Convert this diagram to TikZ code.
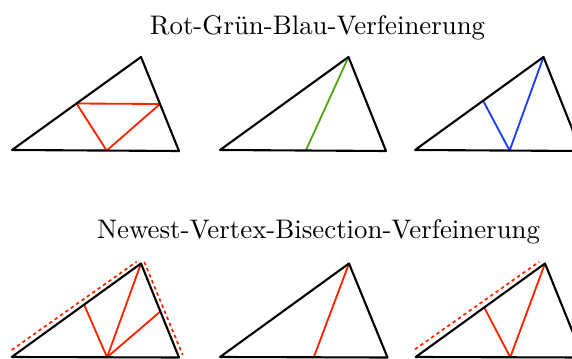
\documentclass[tikz,border=0pt]{standalone}
\usetikzlibrary{calc}
\definecolor{rgbred}{RGB}{255,35,0}
\definecolor{rgbgreen}{RGB}{85,165,25}
\definecolor{rgbblue}{RGB}{25,60,255}
\begin{document}
\begin{tikzpicture}[x=0.38pt,y=-0.38pt,
  edge/.style={black,line width=0.8pt,line join=round},
  refine/.style={line width=0.7pt,line join=round},
  marked/.style={rgbred,line width=0.65pt,dash pattern=on 1.3pt off 1.2pt},
  title/.style={anchor=base,inner sep=0pt,font=\fontsize{10.2pt}{12pt}\selectfont}]
\useasboundingbox (0,0) rectangle (572,359);
\clip (0,0) rectangle (572,359);
\node[title] (t1) at (317.5,35) {Rot-Grün-Blau-Verfeinerung};
\node[title] (t2) at (318.5,239) {Newest-Vertex-Bisection-Verfeinerung};
% triangle vertices
\coordinate (a1) at (12,150);   \coordinate (b1) at (179,151);   \coordinate (c1) at (141,57);
\coordinate (a2) at (220,150);  \coordinate (b2) at (386,151);   \coordinate (c2) at (348.5,57);
\coordinate (a3) at (415,150);  \coordinate (b3) at (581,151);   \coordinate (c3) at (543.5,57);
\coordinate (a4) at (11.7,357); \coordinate (b4) at (179,357.5); \coordinate (c4) at (141,263.5);
\coordinate (a5) at (220,357);  \coordinate (b5) at (387.5,357.5); \coordinate (c5) at (349,263.5);
\coordinate (a6) at (415.7,357);\coordinate (b6) at (583,357.5); \coordinate (c6) at (545,263.5);
% refinement points
\coordinate (p1) at ($(a1)!0.567!(b1)$);
\coordinate (q1) at ($(a1)!0.5!(c1)$);
\coordinate (r1) at ($(b1)!0.5!(c1)$);
\coordinate (p2) at ($(a2)!0.517!(b2)$);
\coordinate (p3) at ($(a3)!0.57!(b3)$);
\coordinate (q3) at ($(a3)!0.53!(c3)$);
\coordinate (p4) at ($(a4)!0.57!(b4)$);
\coordinate (q4) at ($(a4)!0.56!(c4)$);
\coordinate (r4) at ($(b4)!0.49!(c4)$);
\coordinate (p5) at ($(a5)!0.56!(b5)$);
\coordinate (p6) at ($(a6)!0.565!(b6)$);
\coordinate (q6) at ($(a6)!0.53!(c6)$);
% marked edges (dashed)
\coordinate (d41) at (11.7,350);  \coordinate (d42) at (136.7,261.7);
\coordinate (d43) at (144.3,262); \coordinate (d44) at (182.7,355);
\coordinate (d61) at (415,349.3); \coordinate (d62) at (539.3,261.7);
% red-green-blue
\draw[refine,rgbred] (q1) -- (r1) -- (p1) -- cycle;
\draw[refine,rgbgreen] (c2) -- (p2);
\draw[refine,rgbblue] (q3) -- (p3) -- (c3);
% newest vertex bisection
\draw[refine,rgbred] (q4) -- (p4) -- (c4);
\draw[refine,rgbred] (p4) -- (r4);
\draw[refine,rgbred] (c5) -- (p5);
\draw[refine,rgbred] (q6) -- (p6) -- (c6);
\draw[marked] (d41) -- (d42);
\draw[marked] (d43) -- (d44);
\draw[marked] (d61) -- (d62);
% triangles
\foreach \i in {1,...,6} {\draw[edge] (a\i) -- (b\i) -- (c\i) -- cycle;}
\end{tikzpicture}
\end{document}
